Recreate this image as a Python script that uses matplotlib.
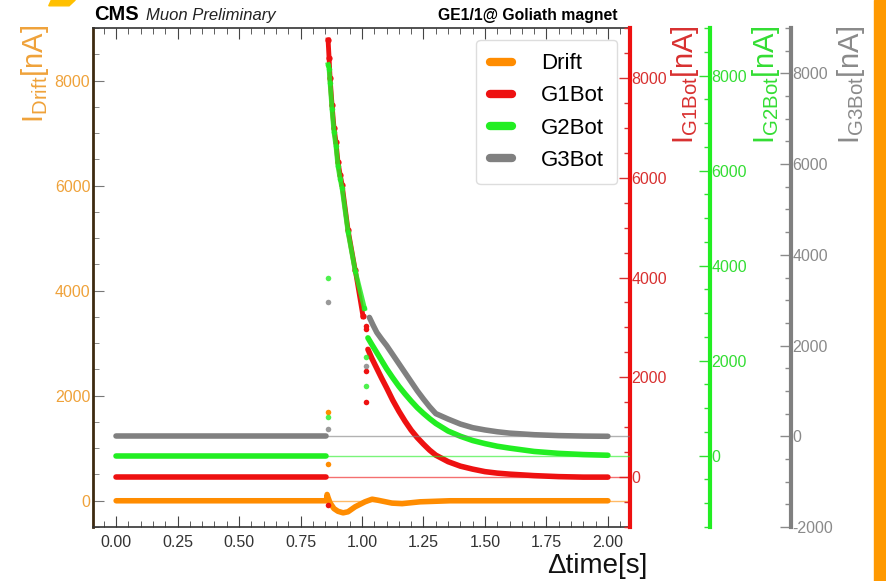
import numpy as np
import matplotlib.pyplot as plt
from matplotlib.lines import Line2D
from matplotlib.ticker import MultipleLocator
from matplotlib.patches import Rectangle, Polygon

plt.rcParams['font.family'] = ['Liberation Sans', 'DejaVu Sans']
plt.rcParams['axes.unicode_minus'] = False

# ---- data (currents in nA vs time in s) ----
names = ['Drift', 'G1Bot', 'G2Bot', 'G3Bot']

t_flat = [0.0, 0.855]
flat_level = [0, 0]

drift_t = [0.0, 0.855, 0.858, 0.862, 0.870, 0.886, 0.902, 0.923, 0.943, 0.972,
           1.012, 1.041, 1.065, 1.122, 1.163, 1.236, 1.358, 1.60, 2.00]
drift_v = [0, 0, 120, 60, -40, -150, -200, -230, -210, -115,
           -20, 30, 10, -45, -55, -20, 0, 0, 0]

# fast drop right after the trip
t_drop = [0.862, 0.866, 0.870, 0.878, 0.886, 0.894, 0.902, 0.911, 0.919, 0.943, 0.972, 1.004]
g1_drop = [8760, 8400, 8000, 7460, 7000, 6720, 6320, 6060, 5860, 4960, 4160, 3220]
t_drop_g2 = [0.862, 0.866, 0.870, 0.878, 0.886, 0.894, 0.902, 0.911, 0.919, 0.943, 0.972, 1.010]
g2_drop = [8230, 8145, 7850, 7290, 6810, 6520, 6100, 5830, 5625, 4710, 3895, 3100]

# slow tail
t_tail = [1.024, 1.04, 1.06, 1.08, 1.10, 1.125, 1.15, 1.175, 1.20, 1.225, 1.25, 1.275,
          1.30, 1.35, 1.40, 1.45, 1.50, 1.55, 1.60, 1.70, 1.80, 1.90, 2.00]
g1_tail = [2560, 2380, 2180, 1980, 1790, 1540, 1320, 1120, 940, 790, 660, 540,
           440, 310, 220, 160, 110, 80, 60, 30, 10, 0, 0]
g2_tail = [2480, 2340, 2170, 2000, 1830, 1640, 1460, 1300, 1150, 1010, 890, 780,
           680, 520, 410, 320, 255, 200, 160, 90, 50, 25, 10]
t_tail_g3 = [1.030, 1.045, 1.06, 1.08, 1.10, 1.125, 1.15, 1.175, 1.20, 1.225, 1.25, 1.275,
             1.30, 1.35, 1.40, 1.45, 1.50, 1.55, 1.60, 1.70, 1.80, 1.90, 2.00]
g3_tail = [2620, 2450, 2290, 2140, 2000, 1800, 1600, 1400, 1200, 1000, 820, 650,
           500, 380, 270, 190, 140, 100, 70, 35, 15, 5, 0]

# isolated samples during the transition
drift_odd_t = [0.860, 0.860]
drift_odd_v = [1690, 700]
g1_odd_t = [0.860, 1.016, 1.016, 1.016, 1.016]
g1_odd_v = [-560, 3020, 2960, 2120, 1500]
g2_odd_t = [0.860, 0.860, 1.016, 1.016]
g2_odd_v = [3750, 810, 2080, 1460]
g3_odd_t = [0.860, 0.860, 1.016]
g3_odd_v = [2970, 154, 1560]

# ---- style ----
c_drift, c_g1, c_g2, c_g3 = '#FF8C00', '#EE1111', '#22EE22', '#808080'
lab_drift, lab_g1, lab_g2, lab_g3 = '#EFA23A', '#D83030', '#33DD33', '#8A8A8A'
xlim = (-0.094, 2.09)
lw = 4

fig = plt.figure(figsize=(8.86, 5.81), dpi=100)
ax = fig.add_axes([0.1050, 0.0929, 0.6061, 0.8589])
ax.set_xlim(*xlim)
ax.set_ylim(-500, 9000)

xmin_frac = (0 - xlim[0]) / (xlim[1] - xlim[0])


def style_twin(tw, pos, color, labcol, ylim):
    tw.set_ylim(*ylim)
    for s in ['left', 'top', 'bottom']:
        tw.spines[s].set_visible(False)
    tw.spines['right'].set_position(('axes', pos))
    tw.spines['right'].set_color(color)
    tw.spines['right'].set_linewidth(3)
    tw.yaxis.set_major_locator(MultipleLocator(2000))
    tw.yaxis.set_minor_locator(MultipleLocator(500))
    tw.tick_params(axis='y', which='both', direction='in', color=labcol,
                   labelcolor=labcol, labelsize=11.5, pad=1)
    tw.tick_params(axis='y', which='major', length=8, width=1)
    tw.tick_params(axis='y', which='minor', length=4, width=1)


ax1 = ax.twinx()
style_twin(ax1, 1.0, c_g1, lab_g1, (-1000, 9000))
ax2 = ax.twinx()
style_twin(ax2, 1.149, c_g2, lab_g2, (-1500, 9000))
ax3 = ax.twinx()
style_twin(ax3, 1.300, c_g3, lab_g3, (-2000, 9000))

# main axis look
ax.spines['right'].set_visible(False)
ax.spines['left'].set_color('#3d2a10')
ax.spines['left'].set_linewidth(2)
for s in ['top', 'bottom']:
    ax.spines[s].set_color('#333333')
    ax.spines[s].set_linewidth(1.2)
ax.xaxis.set_major_locator(MultipleLocator(0.25))
ax.xaxis.set_minor_locator(MultipleLocator(0.05))
ax.yaxis.set_major_locator(MultipleLocator(2000))
ax.yaxis.set_minor_locator(MultipleLocator(500))
ax.xaxis.set_major_formatter(lambda v, p: f'{v:.2f}')
ax.tick_params(axis='x', which='both', direction='in', top=True, color='#444444',
               labelcolor='#333333', labelsize=11.5, pad=6)
ax.tick_params(axis='x', which='major', length=8)
ax.tick_params(axis='x', which='minor', length=4)
ax.tick_params(axis='y', which='both', direction='in', right=False, color='#777777',
               labelcolor=lab_drift, labelsize=11.5, pad=2)
ax.tick_params(axis='y', which='major', length=8)
ax.tick_params(axis='y', which='minor', length=4)

# reference lines at zero
ax.axhline(0, xmin=xmin_frac, color=c_drift, lw=1, alpha=0.6)
ax1.axhline(0, xmin=xmin_frac, color=c_g1, lw=1, alpha=0.6)
ax2.axhline(0, xmin=xmin_frac, color=c_g2, lw=1, alpha=0.6)
ax3.axhline(0, xmin=xmin_frac, color=c_g3, lw=1, alpha=0.6)

# data
kw = dict(lw=lw, solid_capstyle='round', solid_joinstyle='round')
ax.plot(drift_t, drift_v, color=c_drift, **kw)
ax.plot(drift_odd_t, drift_odd_v, 'o', color=c_drift, ms=4, mec='none')

ax1.plot(t_flat, flat_level, color=c_g1, **kw)
ax1.plot(t_drop, g1_drop, color=c_g1, lw=3.5, marker='o', ms=4.5, mec='none')
ax1.plot(t_tail, g1_tail, color=c_g1, **kw)
ax1.plot(g1_odd_t, g1_odd_v, 'o', color=c_g1, ms=4, mec='none')

ax2.plot(t_flat, flat_level, color=c_g2, **kw)
ax2.plot(t_drop_g2, g2_drop, color=c_g2, lw=3.5, marker='o', ms=4, mec='none', alpha=0.85)
ax2.plot(t_tail, g2_tail, color=c_g2, **kw)
ax2.plot(g2_odd_t, g2_odd_v, 'o', color=c_g2, ms=4, mec='none', alpha=0.8)

ax3.plot(t_flat, flat_level, color=c_g3, **kw)
ax3.plot(t_tail_g3, g3_tail, color=c_g3, **kw)
ax3.plot(g3_odd_t, g3_odd_v, 'o', color=c_g3, ms=4, mec='none', alpha=0.8)

# legend
handles = [Line2D([], [], color=c, lw=6, solid_capstyle='round')
           for c in [c_drift, c_g1, c_g2, c_g3]]
leg = ax3.legend(handles, names, loc='upper right', bbox_to_anchor=(0.976, 0.976),
                 fontsize=16, handlelength=1.0, handletextpad=1.3, labelspacing=0.5,
                 borderpad=0.6, framealpha=1, edgecolor='#dddddd', fancybox=True,
                 borderaxespad=0)

# axis labels
fig.text(0.040, 0.957, r'$\mathregular{I_{Drift}[nA]}$', rotation=90, ha='center',
         va='top', color=lab_drift, fontsize=21)
fig.text(0.773, 0.957, r'$\mathregular{I_{G1Bot}[nA]}$', rotation=90, ha='center',
         va='top', color=lab_g1, fontsize=21)
fig.text(0.864, 0.957, r'$\mathregular{I_{G2Bot}[nA]}$', rotation=90, ha='center',
         va='top', color=lab_g2, fontsize=21)
fig.text(0.961, 0.957, r'$\mathregular{I_{G3Bot}[nA]}$', rotation=90, ha='center',
         va='top', color=lab_g3, fontsize=21)
fig.text(0.731, 0.0138, 'Δtime[s]', ha='right', va='baseline', fontsize=20, color='#111111')

# header
fig.text(0.106, 0.965, 'CMS', fontsize=14.5, fontweight='bold', va='baseline')
fig.text(0.165, 0.965, 'Muon Preliminary', fontsize=12, style='italic', va='baseline',
         color='#222222')
fig.text(0.697, 0.965, 'GE1/1@ Goliath magnet', fontsize=11.3, fontweight='bold',
         ha='right', va='baseline')

# slide decorations
fig.patches.append(Rectangle((0.9865, 0), 0.0135, 1, transform=fig.transFigure,
                             color='#FF9900', zorder=10))
fig.patches.append(Polygon([(0.058, 1.0), (0.085, 1.0), (0.078, 0.99), (0.055, 0.99)],
                           closed=True, transform=fig.transFigure, color='#FFC000', zorder=10))

fig.savefig('out.png', dpi=100)
